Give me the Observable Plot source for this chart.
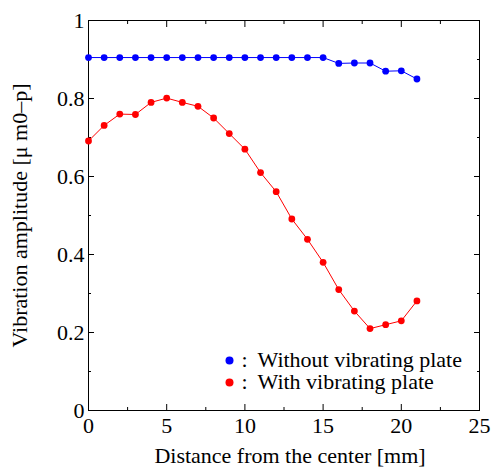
<!DOCTYPE html>
<html><head><meta charset="utf-8">
<script src="https://cdn.jsdelivr.net/npm/d3@7"></script>
<script src="https://cdn.jsdelivr.net/npm/@observablehq/plot@0.6"></script>
<style>
body{margin:0;background:#fff;}
svg{display:block;}
</style>
</head><body><div id="chart"></div>
<script>
const distance = [0,1,2,3,4,5,6,7,8,9,10,11,12,13,14,15,16,17,18,19,20,21];
const withoutPlate = [0.905,0.905,0.905,0.905,0.905,0.905,0.905,0.905,0.905,0.905,0.905,0.905,0.905,0.905,0.905,0.905,0.890,0.891,0.891,0.870,0.871,0.850];
const withPlate = [0.691,0.731,0.760,0.759,0.790,0.801,0.790,0.780,0.750,0.710,0.670,0.610,0.561,0.491,0.439,0.380,0.310,0.255,0.210,0.220,0.230,0.281];
const seriesNames = ["Without vibrating plate","With vibrating plate"];
const seriesColors = ["#0000ff","#ff0000"];
const xMajor = [0,5,10,15,20,25];
const xMinor = [2.5,7.5,12.5,17.5,22.5];
const yMajor = [0,0.2,0.4,0.6,0.8,1];
const yMinor = [0.1,0.3,0.5,0.7,0.9];
const xTitle = "Distance from the center [mm]";
const yTitle = "Vibration amplitude [μ m0–p]";

const rows = [];
distance.forEach((d,i)=>{
  rows.push({x:d, y:withoutPlate[i], s:seriesNames[0]});
});
distance.forEach((d,i)=>{
  rows.push({x:d, y:withPlate[i], s:seriesNames[1]});
});

const FONT = "Liberation Serif";
const FS = 22;
const T = {fontSize: FS, fontFamily: FONT, fill: "#000"};
const chart = Plot.plot({
  width: 492, height: 468,
  marginLeft: 88, marginRight: 13, marginTop: 20, marginBottom: 58,
  style: "font-family: Liberation Serif; font-size: 22px; color: #000; background: #fff;",
  x: {domain: [0,25]},
  y: {domain: [0,1]},
  color: {domain: seriesNames, range: seriesColors},
  marks: [
    Plot.axisX({ticks: xMajor, tickSize: 0, tickPadding: 7, label: null, ...T, tickFormat: d => String(d)}),
    Plot.axisY({ticks: yMajor, tickSize: 0, tickPadding: 4, label: null, ...T, tickFormat: d => String(d)}),
    Plot.axisX({ticks: xMajor, tickSize: -6, tickFormat: () => "", label: null}),
    Plot.axisX({anchor: "top", ticks: xMajor, tickSize: -6, tickFormat: () => "", label: null}),
    Plot.axisX({ticks: xMinor, tickSize: -3, tickFormat: () => "", label: null}),
    Plot.axisX({anchor: "top", ticks: xMinor, tickSize: -3, tickFormat: () => "", label: null}),
    Plot.axisY({ticks: yMajor, tickSize: -6, tickFormat: () => "", label: null}),
    Plot.axisY({anchor: "right", ticks: yMajor, tickSize: -6, tickFormat: () => "", label: null}),
    Plot.axisY({ticks: yMinor, tickSize: -3, tickFormat: () => "", label: null}),
    Plot.axisY({anchor: "right", ticks: yMinor, tickSize: -3, tickFormat: () => "", label: null}),
    Plot.frame({stroke: "#000", strokeWidth: 1}),
    Plot.line(rows, {x: "x", y: "y", z: "s", stroke: "s", strokeWidth: 1}),
    Plot.dot(rows, {x: "x", y: "y", fill: "s", r: 3.4}),
    Plot.dot([seriesNames[0]], {frameAnchor: "bottom-left", dx: 141, dy: -50, fill: seriesColors[0], r: 4}),
    Plot.dot([seriesNames[1]], {frameAnchor: "bottom-left", dx: 141, dy: -28, fill: seriesColors[1], r: 4}),
    Plot.text([":"], {frameAnchor: "bottom-left", dx: 153, dy: -51, textAnchor: "start", lineAnchor: "middle", ...T}),
    Plot.text([":"], {frameAnchor: "bottom-left", dx: 153, dy: -29, textAnchor: "start", lineAnchor: "middle", ...T}),
    Plot.text([seriesNames[0]], {frameAnchor: "bottom-left", dx: 169, dy: -51, textAnchor: "start", lineAnchor: "middle", ...T}),
    Plot.text([seriesNames[1]], {frameAnchor: "bottom-left", dx: 169, dy: -29, textAnchor: "start", lineAnchor: "middle", ...T}),
    Plot.text([xTitle], {frameAnchor: "bottom", dx: 6, dy: 52, textAnchor: "middle", lineAnchor: "bottom", ...T}),
    Plot.text([yTitle], {frameAnchor: "left", dx: -77, rotate: -90, textAnchor: "middle", lineAnchor: "top", ...T, ariaLabel: "ytitle"})
  ]
});

// rich formatting of the y title (italic mu, subscript 0-p)
const yt = d3.select(chart).select('g[aria-label="ytitle"] text');
if (!yt.empty()) {
  const parts = yTitle.match(/^(.*\[)(μ)( m)(0–p)(\])$/);
  if (parts) {
    yt.text(null);
    yt.append("tspan").text(parts[1]);
    yt.append("tspan").attr("font-style", "italic").text(parts[2]);
    yt.append("tspan").text(parts[3]);
    yt.append("tspan").attr("font-size", 14).attr("dy", "5").text(parts[4]);
    yt.append("tspan").attr("dy", "-5").text(parts[5]);
  }
}
const ts = chart.querySelectorAll("text");
ts.forEach((t, i) => { t.style.setProperty("font-family", FONT, "important"); });
document.getElementById("chart").appendChild(chart);
</script>
</body></html>
